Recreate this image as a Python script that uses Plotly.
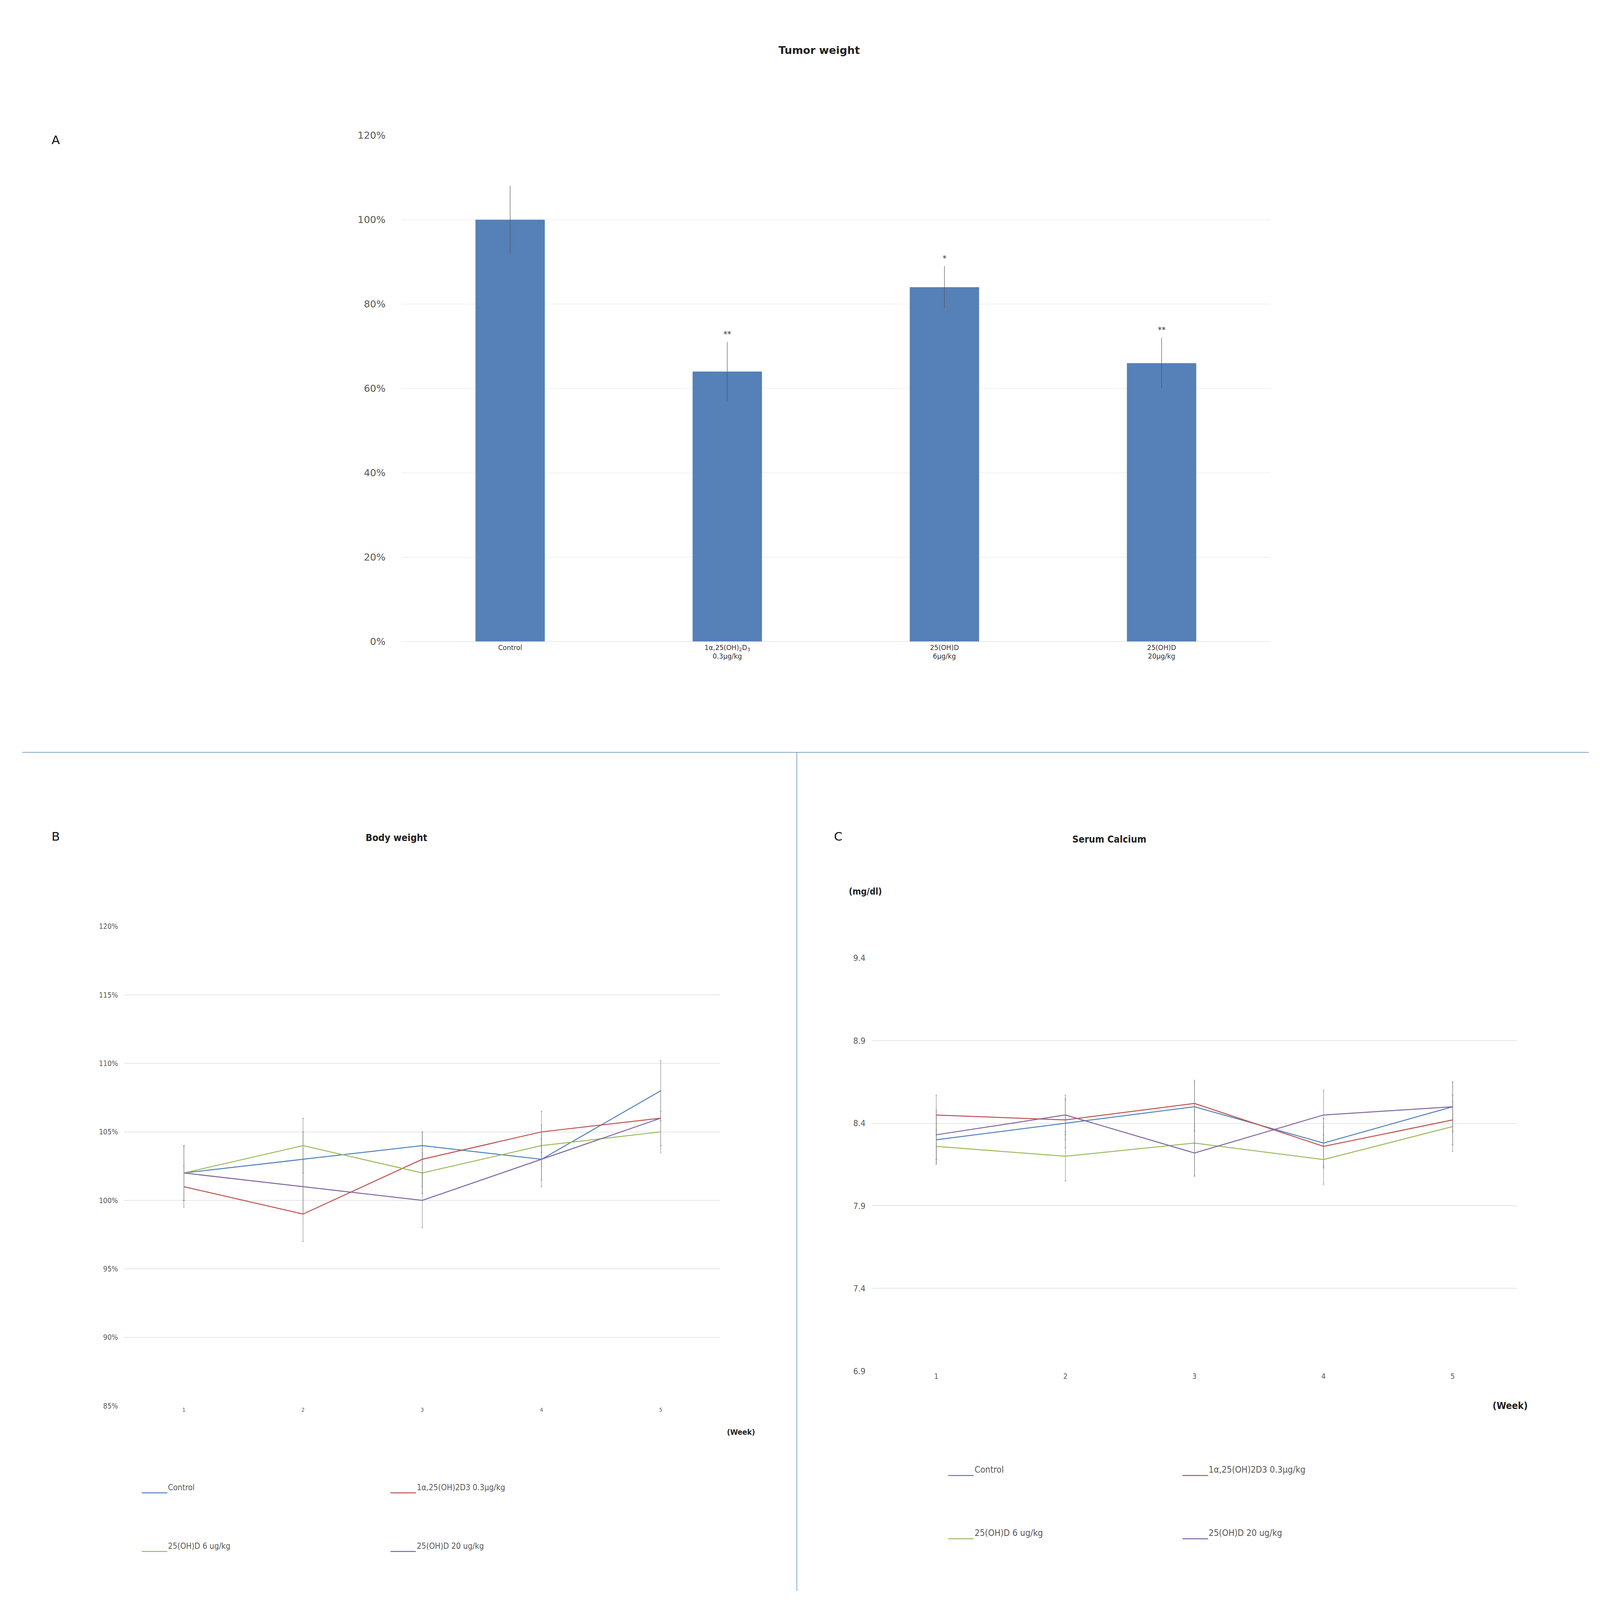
import plotly.graph_objects as go

# Panel A: tumour weight
groups = ["Control", "1α,25(OH)<sub>2</sub>D<sub>3</sub><br>0.3μg/kg",
          "25(OH)D<br>6μg/kg", "25(OH)D<br>20μg/kg"]
tumor = [1.00, 0.64, 0.84, 0.66]
tumor_err = [0.08, 0.07, 0.05, 0.06]
stars = ["", "**", "*", "**"]

# Panels B and C
weeks = [1, 2, 3, 4, 5]
series_names = ["Control", "1α,25(OH)2D3 0.3μg/kg", "25(OH)D 6 ug/kg", "25(OH)D 20 ug/kg"]
colors = ["#4F81BD", "#C0504D", "#9BBB59", "#8064A2"]
body = [
    [1.02, 1.03, 1.04, 1.03, 1.08],
    [1.01, 0.99, 1.03, 1.05, 1.06],
    [1.02, 1.04, 1.02, 1.04, 1.05],
    [1.02, 1.01, 1.00, 1.03, 1.06],
]
body_err = [
    [0.02, 0.02, 0.01, 0.015, 0.022],
    [0.015, 0.02, 0.02, 0.015, 0.02],
    [0.02, 0.02, 0.015, 0.015, 0.015],
    [0.02, 0.02, 0.02, 0.02, 0.02],
]
calcium = [
    [8.30, 8.40, 8.50, 8.28, 8.50],
    [8.45, 8.42, 8.52, 8.26, 8.42],
    [8.26, 8.20, 8.28, 8.18, 8.38],
    [8.33, 8.45, 8.22, 8.45, 8.50],
]
calcium_err = [
    [0.15, 0.15, 0.15, 0.15, 0.15],
    [0.12, 0.12, 0.14, 0.12, 0.15],
    [0.1, 0.15, 0.2, 0.15, 0.15],
    [0.15, 0.12, 0.14, 0.15, 0.15],
]

FONT = "Liberation Sans Narrow, DejaVu Sans Condensed, sans-serif"
GREY = "#595959"
GRID = "#E6E6E6"

fig = go.Figure()

fig.add_trace(go.Bar(
    x=groups, y=tumor, marker_color="#5580B8", width=0.32,
    error_y=dict(type="data", array=tumor_err, color="#555", thickness=1.2, width=0),
    xaxis="x", yaxis="y", showlegend=False,
))
for g, v, e, s in zip(groups, tumor, tumor_err, stars):
    if s:
        fig.add_annotation(x=g, y=v + e + 0.005, text=s, showarrow=False, xref="x", yref="y",
                           yanchor="bottom", font=dict(size=22, color="#333"))

for i, name in enumerate(series_names):
    fig.add_trace(go.Scatter(
        x=weeks, y=body[i], mode="lines", line=dict(color=colors[i], width=2.5),
        error_y=dict(type="data", array=body_err[i], color="#777", thickness=1, width=2),
        xaxis="x2", yaxis="y2", showlegend=False, name=name,
    ))
    fig.add_trace(go.Scatter(
        x=weeks, y=calcium[i], mode="lines", line=dict(color=colors[i], width=2.5),
        error_y=dict(type="data", array=calcium_err[i], color="#777", thickness=1, width=2),
        xaxis="x3", yaxis="y3", showlegend=False, name=name,
    ))

fig.update_layout(
    paper_bgcolor="white", plot_bgcolor="white",
    margin=dict(l=0, r=0, t=0, b=0),
    font=dict(family=FONT, color=GREY),
    xaxis=dict(domain=[0.25, 0.795], anchor="y", showline=True, linecolor="#D9D9D9", linewidth=1,
               tickfont=dict(size=17, family="DejaVu Sans", color="#333"), ticks=""),
    yaxis=dict(domain=[0.60, 0.92], anchor="x", range=[0, 1.2], dtick=0.2, tickformat=".0%",
               gridcolor=GRID, gridwidth=1, zeroline=False, ticklabelstandoff=40,
               tickfont=dict(size=25, family="DejaVu Sans", color=GREY)),
    xaxis2=dict(domain=[0.076, 0.45], anchor="y2", range=[0.5, 5.5], dtick=1, ticks="",
                showgrid=False, zeroline=False, tickfont=dict(size=14, family=FONT)),
    yaxis2=dict(domain=[0.117, 0.42], anchor="x2", range=[0.85, 1.2], dtick=0.05, tickformat=".0%",
                gridcolor=GRID, gridwidth=1.5, zeroline=False, ticklabelstandoff=15,
                tickfont=dict(size=19, family=FONT)),
    xaxis3=dict(domain=[0.545, 0.95], anchor="y3", range=[0.5, 5.5], dtick=1, ticks="",
                showgrid=False, zeroline=False, tickfont=dict(size=19, family=FONT)),
    yaxis3=dict(domain=[0.139, 0.40], anchor="x3", range=[6.9, 9.4],
                tickvals=[6.9, 7.4, 7.9, 8.4, 8.9, 9.4],
                ticktext=["6.9", "7.4", "7.9", "8.4", "8.9", "9.4"], ticklabelstandoff=15,
                gridcolor=GRID, gridwidth=1.5, zeroline=False, tickfont=dict(size=22, family=FONT)),
)

ann = [
    dict(x=0.512, y=0.978, text="<b>Tumor weight</b>", size=27, family="DejaVu Sans", color="#222"),
    dict(x=0.03, y=0.922, text="A", size=31, family="DejaVu Sans", color="#111"),
    dict(x=0.03, y=0.477, text="B", size=31, family="DejaVu Sans", color="#111"),
    dict(x=0.524, y=0.477, text="C", size=31, family="DejaVu Sans", color="#111"),
    dict(x=0.227, y=0.476, text="<b>Body weight</b>", size=25, family=FONT, color="#222"),
    dict(x=0.718, y=0.475, text="<b>Serum Calcium</b>", size=25, family=FONT, color="#222"),
    dict(x=0.541, y=0.442, text="<b>(mg/dl)</b>", size=23, family=FONT, color="#222"),
    dict(x=0.463, y=0.097, text="<b>(Week)</b>", size=20, family=FONT, color="#222"),
    dict(x=0.957, y=0.113, text="<b>(Week)</b>", size=25, family=FONT, color="#222"),
]
for a in ann:
    fig.add_annotation(x=a["x"], y=a["y"], xref="paper", yref="paper", text=a["text"],
                       showarrow=False, font=dict(size=a["size"], family=a["family"], color=a["color"]))

# Hand-drawn legends
legend_pos_b = [(0.087, 0.062), (0.243, 0.062), (0.087, 0.025), (0.243, 0.025)]
legend_pos_c = [(0.593, 0.073), (0.74, 0.073), (0.593, 0.033), (0.74, 0.033)]
for pos_list, size in [(legend_pos_b, 21), (legend_pos_c, 23)]:
    for (lx, ly), name, c in zip(pos_list, series_names, colors):
        fig.add_shape(type="line", xref="paper", yref="paper", x0=lx, x1=lx + 0.016,
                      y0=ly, y1=ly, line=dict(color=c, width=2.5))
        fig.add_annotation(x=lx + 0.016, y=ly, xref="paper", yref="paper", text=name,
                           showarrow=False, xanchor="left",
                           font=dict(size=size, family=FONT, color=GREY))

# Separators
fig.add_shape(type="line", xref="paper", yref="paper", x0=0.012, x1=0.995, y0=0.53, y1=0.53,
              line=dict(color="#5B8CC0", width=1.5))
fig.add_shape(type="line", xref="paper", yref="paper", x0=0.498, x1=0.498, y0=0.0, y1=0.53,
              line=dict(color="#5B8CC0", width=1.5))

fig.write_html("out.html")
